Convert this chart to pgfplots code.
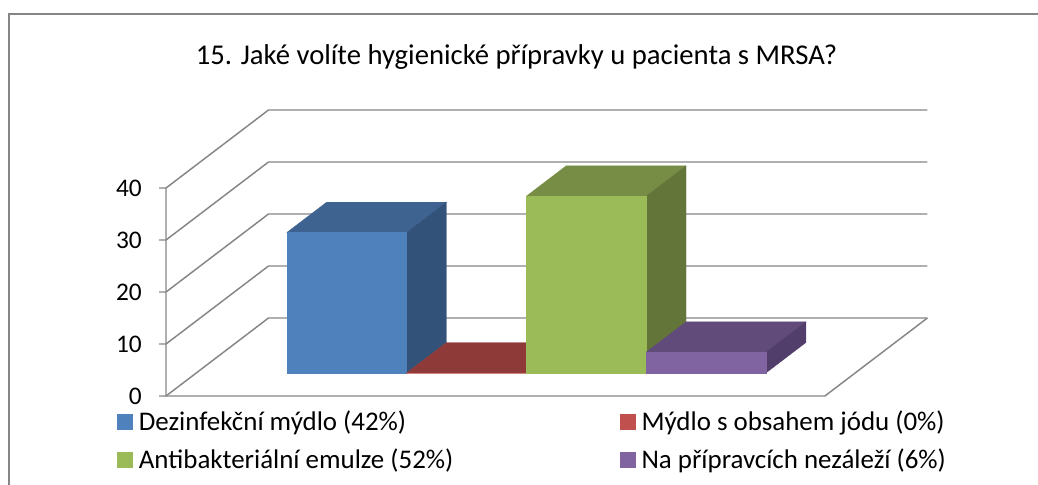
\documentclass[border=0pt]{standalone}
\usepackage{pgfplots}
\pgfplotsset{compat=1.18}
\usepackage{fontspec}
\setmainfont{Carlito}
\definecolor{gridc}{HTML}{868686}
\definecolor{bF}{HTML}{4F81BD}\definecolor{bT}{HTML}{3F6390}\definecolor{bS}{HTML}{32527A}
\definecolor{rF}{HTML}{C0504D}\definecolor{rT}{HTML}{8E3A38}\definecolor{rS}{HTML}{7A302E}
\definecolor{gF}{HTML}{9BBB59}\definecolor{gT}{HTML}{778D45}\definecolor{gS}{HTML}{647539}
\definecolor{pF}{HTML}{8064A2}\definecolor{pT}{HTML}{604B7B}\definecolor{pS}{HTML}{523E6B}
% values: Dezinfekcni 27, Mydlo s jodem 0, Antibakterialni 34, Nezalezi 4
\newcommand{\chartbar}[5]{% x0, height, front, top, side
  \pgfmathsetmacro{\xa}{#1}\pgfmathsetmacro{\xb}{#1+1}
  \edef\temp{\noexpand\addplot3[forget plot,fill=#4,draw=#4,line width=0.2pt] coordinates {(\xa,0.295,#2) (\xb,0.295,#2) (\xb,0.685,#2) (\xa,0.685,#2)} --cycle;
  \noexpand\addplot3[forget plot,fill=#5,draw=#5,line width=0.2pt] coordinates {(\xb,0.295,0) (\xb,0.685,0) (\xb,0.685,#2) (\xb,0.295,#2)} --cycle;
  \noexpand\addplot3[forget plot,fill=#3,draw=#3,line width=0.2pt] coordinates {(\xa,0.295,0) (\xb,0.295,0) (\xb,0.295,#2) (\xa,0.295,#2)} --cycle;}\temp}
\begin{document}
\begin{tikzpicture}
\useasboundingbox (0,0) rectangle (778.5pt,-363.75pt);
\fill[white] (0,0) rectangle (778.5pt,-363.75pt);
\begin{scope}
\clip (0,0) rectangle (778.5pt,-363.75pt);
\draw[gridc,line width=1.4pt] (6.9pt,-370pt) -- (6.9pt,-10.2pt) -- (785pt,-10.2pt);
\end{scope}
\begin{axis}[
  at={(124.5pt,-297pt)}, anchor=origin,
  x={(89.85pt,0pt)}, y={(76.875pt,58.5pt)}, z={(0pt,3.9pt)},
  xmin=0,xmax=5.5,ymin=0,ymax=1,zmin=0,zmax=40,
  hide axis, clip=false,
  every axis title shift=0pt,
  title={\fontsize{21.5pt}{25pt}\selectfont 15. Jaké volíte hygienické přípravky u pacienta s MRSA?},
  title style={at={(axis cs:2.926,0,65.2)},anchor=center},
  legend columns=2,
  legend cell align=left,
  legend image code/.code={\fill[#1] (0pt,-5.6pt) rectangle (11.2pt,5.6pt);\path (14pt,0pt);},
  legend style={draw=none,fill=none,at={(axis cs:-0.409,0,-2.35)},anchor=north west,
    font=\fontsize{20.2pt}{23pt}\selectfont,row sep=8.2pt,inner sep=0pt,outer sep=0pt,
    /tikz/every even column/.append style={column sep=122.7pt}},
]
\pgfplotsinvokeforeach{0,10,20,30,40}{
  \addplot3[forget plot,gridc,line width=1.1pt] coordinates {(-0.058,0,#1) (0,0,#1) (0,1,#1) (5.5,1,#1)};
}
\addplot3[forget plot,gridc,line width=1.1pt] coordinates {(0,0,40) (0,0,0) (5.5,0,0) (5.5,1,0)};
\chartbar{0.755+0}{27}{bF}{bT}{bS}
\chartbar{0.755+1}{0}{rF}{rT}{rS}
\chartbar{0.755+2}{34}{gF}{gT}{gS}
\chartbar{0.755+3}{4}{pF}{pT}{pS}
\addlegendimage{bF}\addlegendentry{Dezinfekční mýdlo (42\%)}
\addlegendimage{rF}\addlegendentry{Mýdlo s obsahem jódu (0\%)}
\addlegendimage{gF}\addlegendentry{Antibakteriální emulze (52\%)}
\addlegendimage{pF}\addlegendentry{Na přípravcích nezáleží (6\%)}
\pgfplotsinvokeforeach{0,10,20,30,40}{
  \node[anchor=east,inner sep=0pt,font=\fontsize{19pt}{22pt}\selectfont] at (axis cs:-0.2,0,#1) {#1};
}
\end{axis}
\end{tikzpicture}
\end{document}
